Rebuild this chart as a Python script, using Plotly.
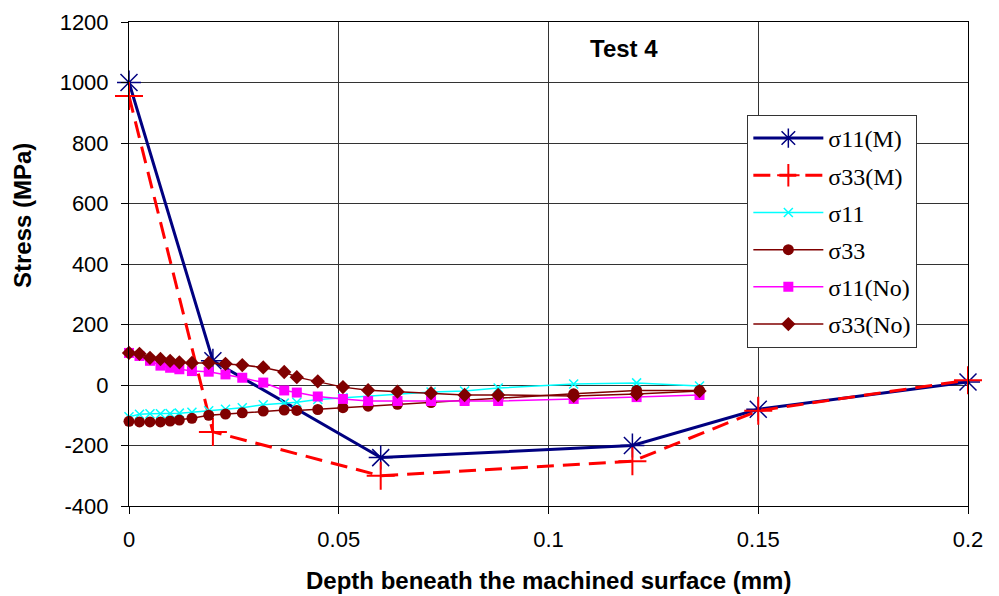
import plotly.graph_objects as go

# Measured profiles (M) at discrete depths
depth_m = [0.0, 0.02, 0.06, 0.12, 0.15, 0.2]
s11_m = [1000, 80, -240, -200, -80, 10]
s33_m = [955, -155, -300, -252, -85, 16]

# Simulated profiles along the depth nodes
depth_fe = [0.0, 0.0025, 0.005, 0.0075, 0.0098, 0.012, 0.015, 0.019, 0.023,
            0.027, 0.032, 0.037, 0.040, 0.045, 0.051, 0.057, 0.064, 0.072,
            0.080, 0.088, 0.106, 0.121, 0.136]
s11 = [-105, -97, -95, -95, -94, -93, -90, -85, -80, -75, -65, -60, -57,
       -48, -42, -36, -30, -23, -20, -10, 3, 7, -3]
s33 = [-120, -122, -122, -122, -119, -116, -110, -100, -96, -92, -86, -83,
       -84, -81, -75, -70, -64, -58, -50, -42, -29, -18, -18]
s11_no = [106, 96, 80, 64, 57, 52, 46, 44, 35, 24, 8, -18, -25, -38, -46,
          -53, -53, -53, -53, -53, -46, -40, -33]
s33_no = [106, 103, 90, 86, 80, 75, 73, 73, 70, 66, 58, 43, 26, 12, -7,
          -17, -22, -27, -33, -33, -36, -30, -20]

x_ticks = [0, 0.05, 0.1, 0.15, 0.2]
x_tick_text = ["0", "0.05", "0.1", "0.15", "0.2"]
y_ticks = [-400, -200, 0, 200, 400, 600, 800, 1000, 1200]
y_tick_text = ["-400", "-200", "0", "200", "400", "600", "800", "1000", "1200"]

NAVY = "#000080"
RED = "#FF0000"
CYAN = "#00FFFF"
MAROON = "#800000"
MAGENTA = "#FF00FF"

SANS = "Liberation Sans, Arial"
SERIF = "Liberation Serif, Times New Roman"

fig = go.Figure()

fig.add_trace(go.Scatter(
    x=depth_m, y=s11_m, name="σ11(M)", mode="lines+markers", legendgroup="a",
    cliponaxis=False,
    line=dict(color=NAVY, width=3),
    marker=dict(symbol="asterisk-open", size=20, color=NAVY,
                line=dict(color=NAVY, width=1.5)),
))
fig.add_trace(go.Scatter(
    x=depth_m, y=s33_m, name="σ33(M)", mode="lines+markers", legendgroup="b",
    cliponaxis=False,
    line=dict(color=RED, width=3, dash="17px,9px"),
    marker=dict(symbol="cross-thin-open", size=20, color=RED,
                line=dict(color=RED, width=2)),
))
fig.add_trace(go.Scatter(
    x=depth_fe, y=s11, name="σ11", mode="lines+markers", legendgroup="c",
    cliponaxis=False,
    line=dict(color=CYAN, width=1.5),
    marker=dict(symbol="x-thin-open", size=9, color=CYAN,
                line=dict(color=CYAN, width=1.5)),
))
fig.add_trace(go.Scatter(
    x=depth_fe, y=s33, name="σ33", mode="lines+markers", legendgroup="d",
    cliponaxis=False,
    line=dict(color=MAROON, width=1.5),
    marker=dict(symbol="circle", size=11, color=MAROON),
))
fig.add_trace(go.Scatter(
    x=depth_fe, y=s11_no, name="σ11(No)", mode="lines+markers", legendgroup="e",
    cliponaxis=False,
    line=dict(color=MAGENTA, width=1.5),
    marker=dict(symbol="square", size=10, color=MAGENTA),
))
fig.add_trace(go.Scatter(
    x=depth_fe, y=s33_no, name="σ33(No)", mode="lines+markers", legendgroup="f",
    cliponaxis=False,
    line=dict(color=MAROON, width=1.5),
    marker=dict(symbol="diamond", size=11, color=MAROON),
))

# Chart label inside the plot area
fig.add_annotation(
    text="<b>Test 4</b>", xref="paper", yref="paper", x=0.59, y=0.946,
    xanchor="center", yanchor="middle",
    showarrow=False, font=dict(family=SANS, size=24, color="black"),
)
# Axis titles
fig.add_annotation(
    text="<b>Stress (MPa)</b>", xref="paper", yref="paper",
    x=-0.127, y=0.6, textangle=-90, showarrow=False,
    xanchor="center", yanchor="middle",
    font=dict(family=SANS, size=24, color="black"),
)
fig.add_annotation(
    text="<b>Depth beneath the machined surface (mm)</b>", xref="paper", yref="paper",
    x=0.5, y=-0.153, showarrow=False,
    xanchor="center", yanchor="middle",
    font=dict(family=SANS, size=24, color="black"),
)

fig.update_layout(
    width=999, height=596,
    margin=dict(l=129, r=31, t=22, b=90),
    paper_bgcolor="white", plot_bgcolor="white",
    font=dict(family=SANS, size=22, color="black"),
    showlegend=True,
    legend=dict(
        x=0.737, y=0.808, xanchor="left", yanchor="top",
        bgcolor="white", bordercolor="#333", borderwidth=1,
        font=dict(family=SERIF, size=24, color="black"),
        tracegroupgap=3, traceorder="grouped", itemwidth=70,
    ),
    xaxis=dict(
        range=[0, 0.2], tickvals=x_ticks, ticktext=x_tick_text,
        showgrid=True, gridcolor="#333", gridwidth=1,
        showline=True, linecolor="black", linewidth=1, mirror=True,
        ticks="outside", ticklen=7, tickcolor="black",
        ticklabelstandoff=7, zeroline=False, automargin=False,
    ),
    yaxis=dict(
        range=[-400, 1200], tickvals=y_ticks, ticktext=y_tick_text,
        showgrid=True, gridcolor="#333", gridwidth=1,
        showline=True, linecolor="black", linewidth=1, mirror=True,
        ticks="outside", ticklen=7, tickcolor="black",
        ticklabelstandoff=8, zeroline=False, automargin=False,
    ),
)

fig.write_html("out.html")
